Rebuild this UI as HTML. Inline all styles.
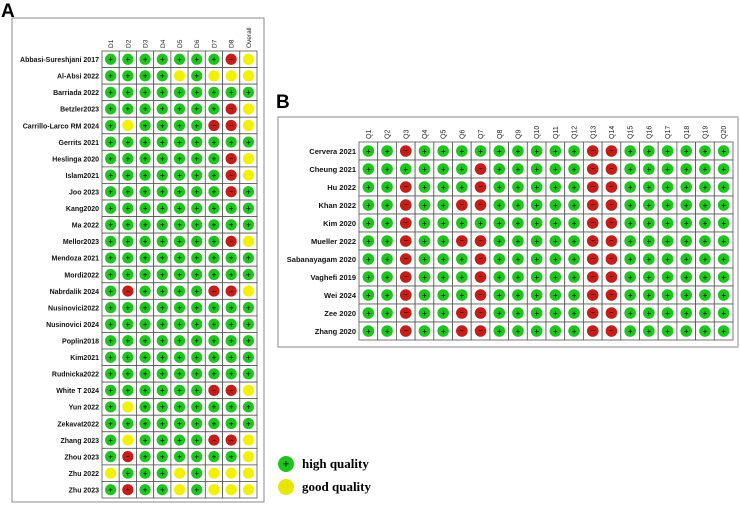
<!DOCTYPE html>
<html><head><meta charset="utf-8"><style>
body{margin:0;background:#fff;width:740px;height:505px;overflow:hidden}
svg{display:block}
</style></head><body>
<svg id="s" width="740" height="505" font-family="Liberation Sans, sans-serif">
<text x="1" y="17" font-size="19" font-weight="bold">A</text>
<text x="276" y="108" font-size="19" font-weight="bold">B</text>
<rect x="12" y="18" width="252" height="484" fill="none" stroke="#888" stroke-width="1"/>
<rect x="278" y="117" width="460" height="230" fill="none" stroke="#888" stroke-width="1"/>
<g>
<circle cx="286" cy="464" r="8" fill="#1fc41f"/>
<text x="286" y="467.5" font-size="11" text-anchor="middle" fill="#000">+</text>
<text x="302" y="468" font-family="Liberation Serif, serif" font-weight="bold" font-size="13">high quality</text>
<circle cx="286" cy="487" r="8" fill="#e6e600"/>
<text x="302" y="491" font-family="Liberation Serif, serif" font-weight="bold" font-size="13">good quality</text>
</g>
</svg>
<script>
const studiesA=["Abbasi-Sureshjani 2017","Al-Absi 2022","Barriada 2022","Betzler2023","Carrillo-Larco RM 2024","Gerrits 2021","Heslinga 2020","Islam2021","Joo 2023","Kang2020","Ma 2022","Mellor2023","Mendoza 2021","Mordi2022","Nabrdalik 2024","Nusinovici2022","Nusinovici 2024","Poplin2018","Kim2021","Rudnicka2022","White T 2024","Yun 2022","Zekavat2022","Zhang 2023","Zhou 2023","Zhu 2022","Zhu 2023"];
const domainsA=["D1","D2","D3","D4","D5","D6","D7","D8","Overall"];
const judgementsA=["ggggggggry","ggggygyyy","ggggggggg","gggggggry","gyggggrry","ggggggggg","gggggggry","gggggggry","gggggggrg","ggggggggg","ggggggggg","gggggggry","ggggggggg","ggggggggg","grggggrry","ggggggggg","ggggggggg","ggggggggg","ggggggggg","ggggggggg","ggggggrry","gyggggggg","ggggggggg","gyggggrry","grggggggy","ygggygyyy","grggygyyy"];
judgementsA[0]="gggggggry";
const studiesB=["Cervera 2021","Cheung 2021","Hu 2022","Khan 2022","Kim 2020","Mueller 2022","Sabanayagam 2020","Vaghefi 2019","Wei 2024","Zee 2020","Zhang 2020"];
const domainsB=["Q1","Q2","Q3","Q4","Q5","Q6","Q7","Q8","Q9","Q10","Q11","Q12","Q13","Q14","Q15","Q16","Q17","Q18","Q19","Q20"];
const redColsB=[[3,13,14],[7,13,14],[3,7,13,14],[3,6,7,13,14],[3,13,14],[3,6,7,13,14],[3,7,13,14],[3,7,13,14],[3,7,13,14],[3,6,7,13,14],[3,6,7,13,14]];

const NS="http://www.w3.org/2000/svg";
const svg=document.getElementById('s');
const COL={g:"#1fc41f",r:"#c41e1a",y:"#f2f200"};
function mk(t,a){const e=document.createElementNS(NS,t);for(const k in a)e.setAttribute(k,a[k]);return e;}
function panel(cfg){
  const g=mk('g',{});
  
  
  svg.appendChild(g);
  const nr=cfg.rows.length,nc=cfg.cols.length;
  const cw=(cfg.x1-cfg.x0)/nc,rh=(cfg.y1-cfg.y0)/nr;
  const cx=i=>cfg.x0+cw*(i+0.5), cy=j=>cfg.y0+rh*(j+0.5);
  cfg.cols.forEach((c,i)=>{
    const t=mk('text',{transform:`translate(${cx(i)+2.5},${cfg.y0-3}) rotate(-90)`,'font-size':cfg.hfs,fill:'#222'});
    t.textContent=c;
    
    
    g.appendChild(t);
  });
  cfg.rows.forEach((r,j)=>{
    const t=mk('text',{x:cfg.x0-3,y:cy(j)+2.8,'font-size':cfg.lfs,'font-weight':'bold','text-anchor':'end',fill:'#111'});
    t.textContent=r;
    
    
    g.appendChild(t);
    for(let i=0;i<nc;i++){
      const k=cfg.val(j,i);
      const rc=mk('rect',{x:cfg.x0+cw*i,y:cfg.y0+rh*j,width:cw,height:rh,fill:'#fff',stroke:'#555','stroke-width':0.8});
      
      
      g.appendChild(rc);
      const c=mk('circle',{cx:cx(i),cy:cy(j),r:cfg.rad,fill:COL[k]});
      
      
      g.appendChild(c);
      if(k!=='y'){
        const s=mk('text',{x:cx(i),y:cy(j)+(k==='g'?2.8:2.2),'font-size':k==='g'?8:7,'text-anchor':'middle',fill:'#000'});
        s.textContent=k==='g'?'+':'−';
        
        
        g.appendChild(s);
      }
    }
  });
}
panel({name:'panel-a-grid',rows:studiesA,cols:domainsA,x0:102,x1:257,y0:51,y1:498,rad:5.6,hfs:6.5,lfs:7,
  val:(j,i)=>judgementsA[j][i]});
panel({name:'panel-b-grid',rows:studiesB,cols:domainsB,x0:359,x1:733,y0:142,y1:340,rad:5.8,hfs:7,lfs:7.5,
  val:(j,i)=>redColsB[j].includes(i+1)?'r':'g'});
</script>
</body></html>
